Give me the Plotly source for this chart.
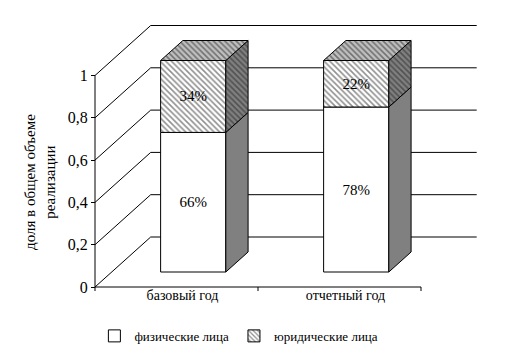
import plotly.graph_objects as go

# ---------------- data ----------------
categories = ["базовый год", "отчетный год"]
series_names = ["физические лица", "юридические лица"]
phys = [0.66, 0.78]
legal = [0.34, 0.22]
y_ticks = [0, 0.2, 0.4, 0.6, 0.8, 1.0]
y_ticklabels = ["0", "0,2", "0,4", "0,6", "0,8", "1"]

# ---------------- 3D geometry (in axis units) ----------------
DX = 0.3417     # full depth shift along x (category units)
DY = 0.2364     # full depth shift along y (value units)
F0 = 0.3        # depth of bar front face
BD = 0.4        # bar depth fraction
BW = 0.4        # bar width (category units)
TICK = 0.019    # small tick length (value units)

FONT = "Liberation Serif"
PAT = dict(shape="\\", size=4, solidity=0.4, fgcolor="#222222")

fig = go.Figure()

# back-wall gridlines: front axis -> diagonal -> back wall
gx, gy = [], []
x_left = -0.5
x_right_back = len(categories) - 0.5 + DX
for v in y_ticks:
    gx += [x_left, x_left + DX, x_right_back, None]
    gy += [v, v + DY, v + DY, None]
fig.add_trace(go.Scatter(x=gx, y=gy, mode="lines", line=dict(color="black", width=1),
                         hoverinfo="skip", showlegend=False, zorder=0))

# floor front line + y axis line + ticks
n = len(categories)
ax_x = [x_left, x_left, None, x_left, n - 0.5, None]
ax_y = [max(y_ticks), -TICK, None, 0, 0, None]
for k in range(1, n + 1):
    ax_x += [x_left + k, x_left + k, None]
    ax_y += [0, -TICK, None]
fig.add_trace(go.Scatter(x=ax_x, y=ax_y, mode="lines", line=dict(color="black", width=1),
                         hoverinfo="skip", showlegend=False, zorder=0))

# front faces (bars)
xs = [i + F0 * DX for i in range(n)]
base0 = [F0 * DY] * n
base1 = [F0 * DY + p for p in phys]
fig.add_trace(go.Bar(x=xs, y=phys, base=base0, width=BW, name=series_names[0],
                     marker=dict(color="white", line=dict(color="black", width=1)),
                     text=[f"{round(v*100)}%" for v in phys], textposition="inside",
                     insidetextanchor="middle",
                     textfont=dict(family=FONT, size=15, color="black"),
                     hoverinfo="skip", zorder=1))
fig.add_trace(go.Bar(x=xs, y=legal, base=base1, width=BW, name=series_names[1],
                     marker=dict(color="white", line=dict(color="black", width=1), pattern=PAT),
                     text=[f"{round(v*100)}%" for v in legal], textposition="inside",
                     insidetextanchor="middle",
                     textfont=dict(family=FONT, size=15, color="black"),
                     hoverinfo="skip", zorder=1))

# side & top faces
def poly(px, py, color, pattern=None):
    kw = dict(x=px + [px[0]], y=py + [py[0]], mode="lines", fill="toself", fillcolor=color,
              line=dict(color="black", width=1), hoverinfo="skip", showlegend=False, zorder=2)
    if pattern:
        kw["fillpattern"] = dict(pattern, bgcolor=color)
    fig.add_trace(go.Scatter(**kw))

ddx, ddy = BD * DX, BD * DY
for i in range(n):
    xr = xs[i] + BW / 2
    xl = xs[i] - BW / 2
    b0 = base0[i]
    b1 = base1[i]
    t = b1 + legal[i]
    poly([xr, xr, xr + ddx, xr + ddx], [b0, b1, b1 + ddy, b0 + ddy], "#808080")
    poly([xr, xr, xr + ddx, xr + ddx], [b1, t, t + ddy, b1 + ddy], "#808080", PAT)
    poly([xl, xr, xr + ddx, xl + ddx], [t, t, t + ddy, t + ddy], "#c0c0c0", PAT)

# ---------------- layout ----------------
L, R, T, B = 80, 47, 15, 75
W, H = 522, 360
pxw = W - L - R
pxh = H - T - B
x0 = -0.5 - 7 / 163
x1 = -0.5 + (W - R - 87) / 163
y0 = -(285 - 279) / 211.5
y1 = (279 - T) / 211.5

fig.update_layout(
    width=W, height=H, margin=dict(l=L, r=R, t=T, b=B),
    paper_bgcolor="white", plot_bgcolor="white",
    barmode="overlay",
    font=dict(family=FONT, size=14, color="black"),
    xaxis=dict(range=[x0, x1], tickvals=list(range(n)), ticktext=categories,
               showgrid=False, zeroline=False, showline=False, ticks="", ticklen=0,
               anchor="free", position=8 / pxh,
               tickfont=dict(family=FONT, size=14), ticklabelshift=6, ticklabelstandoff=0),
    yaxis=dict(range=[y0, y1], tickvals=y_ticks, ticktext=y_ticklabels,
               showgrid=False, zeroline=False, showline=False,
               ticks="outside", ticklen=4, tickcolor="black", tickwidth=1,
               anchor="free", position=7 / pxw, tickfont=dict(family=FONT, size=16)),
    legend=dict(orientation="h", x=0.382, xanchor="center", y=-0.159, yanchor="middle",
                yref="paper", font=dict(family=FONT, size=13), itemwidth=30,
                traceorder="normal", tracegroupgap=0),
    showlegend=True,
    annotations=[dict(text="доля в общем объеме<br>реализации", textangle=-90,
                      xref="paper", yref="paper", x=-(L - 32) / pxw, xanchor="center",
                      y=(285 - 174) / pxh, yanchor="middle", showarrow=False,
                      font=dict(family=FONT, size=15))],
)

fig.write_html("out.html")
